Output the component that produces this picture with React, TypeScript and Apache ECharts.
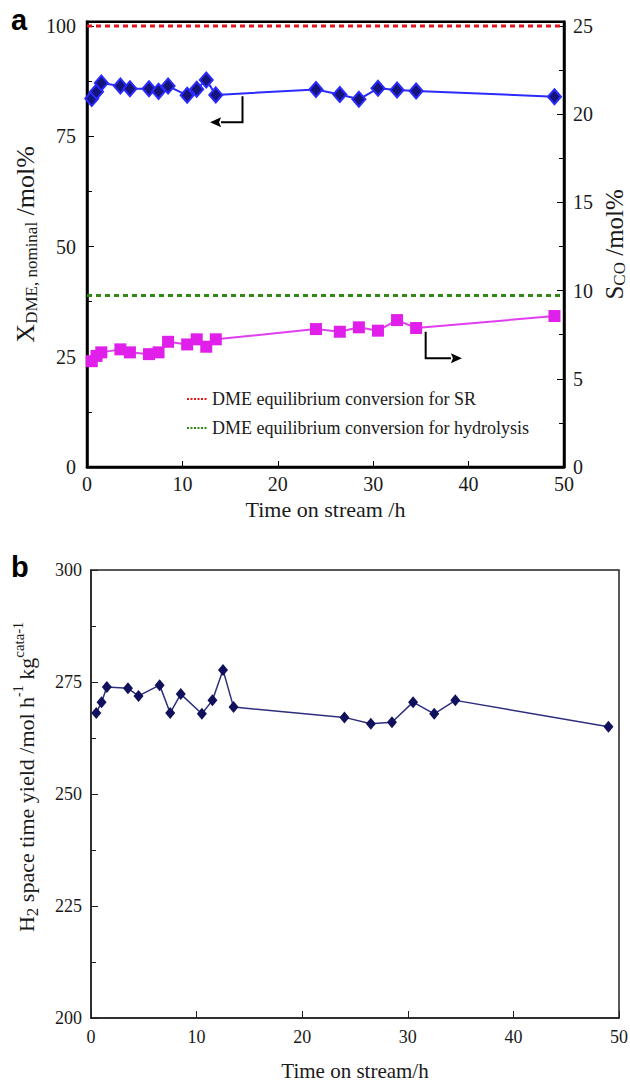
import React, { useEffect, useRef } from "react";
import * as echarts from "echarts";

// ---- Data (panel a) ----
const timeA = [0.5, 1, 1.5, 3.5, 4.5, 6.5, 7.5, 8.5, 10.5, 11.5, 12.5, 13.5, 24, 26.5, 28.5, 30.5, 32.5, 34.5, 49];
const xDme = [83.6, 85.1, 87.1, 86.4, 85.8, 85.8, 85.2, 86.4, 84.3, 85.7, 87.8, 84.4, 85.6, 84.5, 83.4, 85.9, 85.5, 85.3, 84.0];
const sCo = [6.0, 6.3, 6.5, 6.67, 6.5, 6.4, 6.5, 7.1, 6.95, 7.24, 6.82, 7.24, 7.82, 7.67, 7.92, 7.73, 8.33, 7.88, 8.56];
const eqSR = 100;
const eqHydrolysis = 38.9;
const eqSpan = [0, 50];
const legendNames = ["DME equilibrium conversion for SR", "DME equilibrium conversion for hydrolysis"];

// ---- Data (panel b) ----
const timeB = [0.5, 1, 1.5, 3.5, 4.5, 6.5, 7.5, 8.5, 10.5, 11.5, 12.5, 13.5, 24, 26.5, 28.5, 30.5, 32.5, 34.5, 49];
const h2Yield = [268.1, 270.5, 273.9, 273.6, 271.9, 274.3, 268.1, 272.3, 267.9, 270.9, 277.7, 269.4, 267.1, 265.7, 266.0, 270.5, 267.9, 270.9, 265.0];

// arrow annotations (data coords)
const leftArrow = { x: 16.3, yTop: 84.1, yBottom: 78.2, xTip: 12.9 };
const rightArrow = { x: 35.5, yTop: 7.67, yBottom: 6.16, xTip: 39.3 };

const SERIF = "'Liberation Serif', 'Times New Roman', serif";
const TXT = "#1a1a1a";

export default function App() {
  const ref = useRef<HTMLDivElement>(null);

  useEffect(() => {
    if (!ref.current) return;
    const chart = echarts.init(ref.current, null, { renderer: "svg" });

    const zip = (xs: number[], ys: number[]) => xs.map((x, i) => [x, ys[i]]);
    const labelStyle = (size: number) => ({ fontSize: size, fontFamily: SERIF, color: TXT });

    const option: any = {
      animation: false,
      backgroundColor: "#fff",
      grid: [
        { left: 87, right: 66, top: 21.7, height: 445.3, show: true, borderColor: "#000", borderWidth: 2.5, outerBoundsMode: "none", containLabel: false },
        { left: 91, right: 11, top: 570, height: 448, show: true, borderColor: "#222", borderWidth: 1.5, outerBoundsMode: "none", containLabel: false },
      ],
      legend: {
        data: legendNames,
        orient: "vertical",
        left: 181,
        top: 385,
        itemWidth: 20,
        itemHeight: 12,
        itemGap: 11,
        lineStyle: { width: 2, type: [2, 1.5] },
        itemStyle: { opacity: 0 },
        textStyle: { ...labelStyle(18) },
        selectedMode: false,
      },
      xAxis: [
        {
          gridIndex: 0, type: "value", min: 0, max: 50, interval: 10,
          axisLine: { lineStyle: { color: "#000", width: 2.5 } },
          axisTick: { inside: true, length: 6, lineStyle: { color: "#000", width: 1 } },
          axisLabel: { ...labelStyle(20), margin: 7 },
          splitLine: { show: false },
          name: "Time on stream /h", nameLocation: "middle", nameGap: 31,
          nameTextStyle: labelStyle(22), nameMoveOverlap: false,
        },
        {
          gridIndex: 1, type: "value", min: 0, max: 50, interval: 10,
          axisLine: { lineStyle: { color: "#222", width: 1.5 } },
          axisTick: { inside: true, length: 7, lineStyle: { color: "#222", width: 1 } },
          axisLabel: { ...labelStyle(18), margin: 10 },
          splitLine: { show: false },
          name: "Time on stream/h", nameLocation: "middle", nameGap: 42,
          nameTextStyle: labelStyle(21), nameMoveOverlap: false,
        },
      ],
      yAxis: [
        {
          gridIndex: 0, type: "value", position: "left", min: 0, max: 101, interval: 25,
          axisLine: { show: true, lineStyle: { color: "#000", width: 2.5 } },
          axisTick: { show: true, inside: true, length: 7, lineStyle: { color: "#000", width: 1 } },
          minorTick: { show: true, splitNumber: 2, length: 5, lineStyle: { color: "#000", width: 1 } },
          axisLabel: { ...labelStyle(20), margin: 11, formatter: (v: number) => (v % 25 === 0 ? String(v) : "") },
          splitLine: { show: false },
          name: "{n|X}{s|DME, nominal}{n| /mol%}",
          nameLocation: "middle", nameGap: 47, nameRotate: 90, nameMoveOverlap: false,
          nameTextStyle: {
            rich: {
              n: { fontSize: 26, fontFamily: SERIF, color: TXT, lineHeight: 30 },
              s: { fontSize: 17, fontFamily: SERIF, color: TXT, lineHeight: 16, verticalAlign: "bottom" },
            },
          },
        },
        {
          gridIndex: 0, type: "value", position: "right", min: 0, max: 25.25, interval: 5,
          axisLine: { show: true, lineStyle: { color: "#000", width: 2.5 } },
          axisTick: { show: true, inside: true, length: 7, lineStyle: { color: "#000", width: 1 } },
          minorTick: { show: true, splitNumber: 2, length: 5, lineStyle: { color: "#000", width: 1 } },
          axisLabel: { ...labelStyle(20), margin: 9, formatter: (v: number) => (v % 5 === 0 ? String(v) : "") },
          splitLine: { show: false },
          name: "{n|S}{s|CO}{n| /mol%}",
          nameLocation: "middle", nameGap: 36, nameRotate: 90, nameMoveOverlap: false,
          nameTextStyle: {
            rich: {
              n: { fontSize: 25, fontFamily: SERIF, color: TXT, lineHeight: 28 },
              s: { fontSize: 17, fontFamily: SERIF, color: TXT, lineHeight: 16, verticalAlign: "bottom" },
            },
          },
        },
        {
          gridIndex: 1, type: "value", position: "left", min: 200, max: 300, interval: 25,
          axisLine: { show: true, lineStyle: { color: "#222", width: 1.5 } },
          axisTick: { show: true, inside: true, length: 7, lineStyle: { color: "#222", width: 1 } },
          minorTick: { show: true, splitNumber: 2, length: 5, lineStyle: { color: "#222", width: 1 } },
          axisLabel: { ...labelStyle(18), margin: 9 },
          splitLine: { show: false },
          name: "{n|H}{s|2}{n| space time yield /mol h}{p|-1}{n| kg}{q|cata}{p|-1}",
          nameLocation: "middle", nameGap: 50, nameRotate: 90, nameMoveOverlap: false,
          nameTextStyle: {
            padding: [0, 0, 0, 34],
            rich: {
              n: { fontSize: 22, fontFamily: SERIF, color: TXT, lineHeight: 30 },
              s: { fontSize: 17, fontFamily: SERIF, color: TXT, lineHeight: 20, verticalAlign: "bottom" },
              p: { fontSize: 14, fontFamily: SERIF, color: TXT, lineHeight: 14, verticalAlign: "top" },
              q: { fontSize: 15, fontFamily: SERIF, color: TXT, lineHeight: 22, verticalAlign: "top" },
            },
          },
        },
      ],
      series: [
        {
          name: legendNames[0], type: "line", xAxisIndex: 0, yAxisIndex: 0,
          data: eqSpan.map((x) => [x, eqSR]), symbol: "none",
          lineStyle: { color: "#e3161e", width: 3, type: [5, 4] }, itemStyle: { color: "#e3161e" },
          z: 3,
        },
        {
          name: legendNames[1], type: "line", xAxisIndex: 0, yAxisIndex: 0,
          data: eqSpan.map((x) => [x, eqHydrolysis]), symbol: "none",
          lineStyle: { color: "#2f8a12", width: 3, type: [5, 4] }, itemStyle: { color: "#2f8a12" },
          z: 3,
        },
        {
          name: "XDME", type: "line", xAxisIndex: 0, yAxisIndex: 0,
          data: zip(timeA, xDme), symbol: "diamond", symbolSize: [13, 15],
          lineStyle: { color: "#2b2bff", width: 2 },
          itemStyle: { color: "#14147a", borderColor: "#2b2bff", borderWidth: 2 },
          z: 5,
        },
        {
          name: "SCO", type: "line", xAxisIndex: 0, yAxisIndex: 1,
          data: zip(timeA, sCo), symbol: "rect", symbolSize: 12,
          lineStyle: { color: "#e03ff0", width: 2 },
          itemStyle: { color: "#e020ea" },
          z: 5,
        },
        {
          name: "H2 STY", type: "line", xAxisIndex: 1, yAxisIndex: 2,
          data: zip(timeB, h2Yield), symbol: "diamond", symbolSize: [10, 12],
          lineStyle: { color: "#2e2e7e", width: 1.5 },
          itemStyle: { color: "#10105c" },
          z: 5,
        },
      ],
    };

    chart.setOption(option);

    const px = (yAxisIndex: number, x: number, y: number) =>
      chart.convertToPixel({ xAxisIndex: 0, yAxisIndex }, [x, y]) as number[];

    const arrow = (yAxisIndex: number, a: { x: number; yTop: number; yBottom: number; xTip: number }) => {
      const top = px(yAxisIndex, a.x, a.yTop);
      const corner = px(yAxisIndex, a.x, a.yBottom);
      const tip = px(yAxisIndex, a.xTip, a.yBottom);
      const dir = tip[0] > corner[0] ? 1 : -1;
      const headLen = 11;
      const base = tip[0] - dir * headLen;
      return [
        {
          type: "polyline",
          shape: { points: [top, corner, [base, corner[1]]] },
          style: { stroke: "#000", lineWidth: 2, fill: "none" },
          z: 10,
        },
        {
          type: "polygon",
          shape: { points: [tip, [base, tip[1] - 5], [base + dir * 2, tip[1]], [base, tip[1] + 5]] },
          style: { fill: "#000" },
          z: 10,
        },
      ];
    };

    chart.setOption({
      graphic: [
        ...arrow(0, leftArrow),
        ...arrow(1, rightArrow),
        { type: "text", left: 11, top: 5, style: { text: "a", fontSize: 29, fontWeight: "bold", fontFamily: "'Liberation Sans', Arial, sans-serif", fill: "#000" } },
        { type: "text", left: 11, top: 552, style: { text: "b", fontSize: 29, fontWeight: "bold", fontFamily: "'Liberation Sans', Arial, sans-serif", fill: "#000" } },
      ],
    });

    return () => chart.dispose();
  }, []);

  return <div ref={ref} style={{ position: "absolute", left: 0, top: 0, width: 630, height: 1081, background: "#fff" }} />;
}
